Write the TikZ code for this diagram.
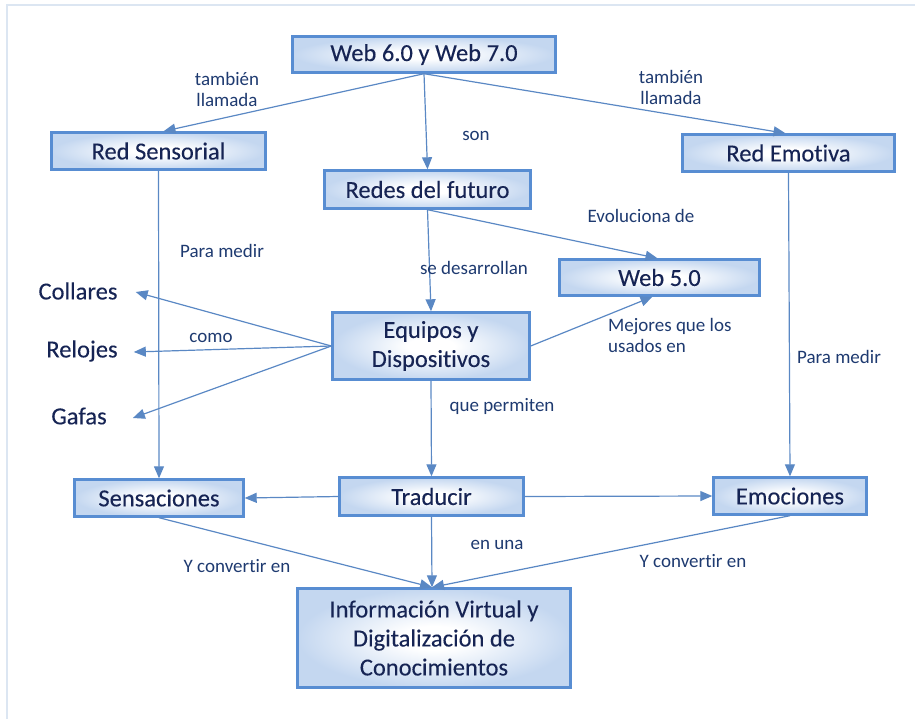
\documentclass[tikz,border=0pt]{standalone}
\usepackage{fontspec}
\setmainfont{Carlito}[Ligatures=NoCommon]
\newfontfamily\boxfont{Carlito}[Ligatures=NoCommon, FakeBold=0.18]
\usetikzlibrary{arrows.meta}
\definecolor{framec}{RGB}{220,230,242}
\definecolor{boxedge}{RGB}{88,141,210}
\definecolor{boxfill}{RGB}{196,215,240}
\definecolor{boxtext}{RGB}{22,36,84}
\definecolor{lbltext}{RGB}{30,58,112}
\definecolor{linkc}{RGB}{90,136,196}
\pgfdeclareradialshading{boxshade}{\pgfpoint{0bp}{0bp}}{%
  color(0bp)=(white); color(6bp)=(white); color(25bp)=(boxfill); color(50bp)=(boxfill)}
\tikzset{
  box/.style={draw=boxedge, line width=2.4pt, shading=boxshade, inner sep=0pt,
    align=center, text=boxtext, font=\boxfont\fontsize{24.5}{29}\selectfont},
  item/.style={text=boxtext, inner sep=0pt, font=\boxfont\fontsize{24.5}{29}\selectfont},
  lbl/.style={text=lbltext, inner sep=0pt, align=center, font=\fontsize{19}{21}\selectfont},
  link/.style={draw=linkc, line width=1.2pt, -{Triangle[length=12pt,width=10pt]}},
}
\begin{document}
\begin{tikzpicture}[x=1pt,y=-1pt]
\useasboundingbox (0,0) rectangle (915,718);
% outer frame
\draw[framec, line width=2pt] (7,720) -- (7,5) -- (917,5);

% boxes
\node[box, minimum width=263pt, minimum height=36pt] (web)  at (424,54.5) {Web 6.0 y Web 7.0};
\node[box, minimum width=214pt, minimum height=37pt] (rs)   at (158.5,151) {Red Sensorial};
\node[box, minimum width=206pt, minimum height=38pt] (fut)  at (427.5,189.5) {Redes del futuro};
\node[box, minimum width=212pt, minimum height=37pt] (re)   at (788.5,153) {Red Emotiva};
\node[box, minimum width=200pt, minimum height=36pt] (w5)   at (659.5,277.5) {Web 5.0};
\node[box, minimum width=197pt, minimum height=67pt] (eq)   at (431,346) {Equipos y\\Dispositivos};
\node[box, minimum width=169pt, minimum height=37pt] (sen)  at (159,498) {Sensaciones};
\node[box, minimum width=184pt, minimum height=38pt] (tra)  at (431.5,496.5) {Traducir};
\node[box, minimum width=153pt, minimum height=37pt] (emo)  at (790,496) {Emociones};
\node[box, minimum width=273pt, minimum height=99pt] (info) at (434,638) {Información Virtual y\\Digitalización de\\Conocimientos};

% plain items
\node[item] (col) at (78,291) {Collares};
\node[item] (rel) at (82,351) {Relojes};
\node[item] (gaf) at (79,416) {Gafas};

% connectors
\draw[link] (web.south) -- ([xshift=5pt]rs.north);
\draw[link] (web.south) -- (fut.north);
\draw[link] (web.south) -- ([xshift=-3pt]re.north);
\draw[link] (rs.south) -- (sen.north);
\draw[link] (re.south) -- (emo.north);
\draw[link] (fut.south) -- (eq.north);
\draw[link] (fut.south) -- ([xshift=-2pt]w5.north);
\draw[link] (eq.east) -- ([xshift=-7pt]w5.south);
\draw[link] (eq.west) -- ([xshift=18pt,yshift=-1pt]col.east);
\draw[link] (eq.west) -- ([xshift=16pt,yshift=-1pt]rel.east);
\draw[link] (eq.west) -- ([xshift=26pt,yshift=-2pt]gaf.east);
\draw[link] (eq.south) -- (tra.north);
\draw[link] (tra.west) -- (sen.east);
\draw[link] (tra.east) -- (emo.west);
\draw[link] (tra.south) -- ([xshift=-2pt]info.north);
\draw[link] (sen.south) -- ([xshift=-2pt]info.north);
\draw[link] (emo.south) -- ([xshift=-2pt]info.north);

% connector labels
\node[lbl] (l1)  at (227,89)  {también\\llamada};
\node[lbl] (l2)  at (671,87)  {también\\llamada};
\node[lbl] (l3)  at (476,136) {son};
\node[lbl] (l4)  at (641,216) {Evoluciona de};
\node[lbl] (l5)  at (222,251) {Para medir};
\node[lbl] (l6)  at (474,268) {se desarrollan};
\node[lbl, align=left, anchor=west] (l7) at (608,335) {Mejores que los\\usados en};
\node[lbl] (l8)  at (211,338) {como};
\node[lbl] (l9)  at (839,357) {Para medir};
\node[lbl] (l10) at (502,406) {que permiten};
\node[lbl] (l11) at (497,545) {en una};
\node[lbl] (l12) at (237,566) {Y convertir en};
\node[lbl] (l13) at (693,561) {Y convertir en};
\end{tikzpicture}
\end{document}
